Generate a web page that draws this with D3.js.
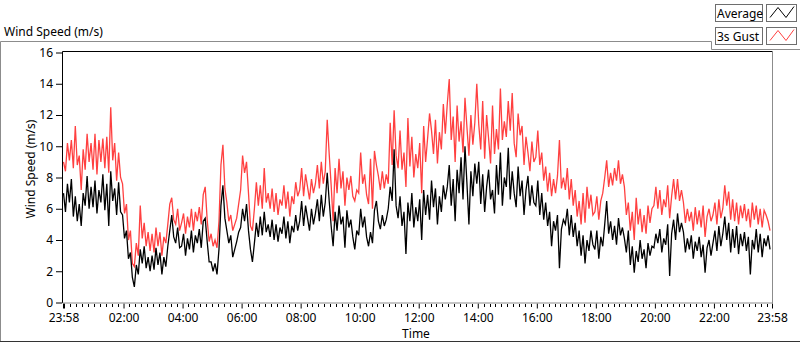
<!DOCTYPE html>
<html><head><meta charset="utf-8">
<script src="https://cdn.jsdelivr.net/npm/d3@7"></script>
<style>
html,body{margin:0;padding:0;background:#fff;}
svg{display:block;font-family:"Noto Sans","Open Sans",sans-serif;}
</style></head>
<body>
<svg id="chart" width="800" height="342"></svg>
<script>
// ---- data (4-minute samples starting 23:58) ----
const stepMinutes = 4;
const averageSpeed = [
7.0,5.8,7.6,6.4,7.9,5.5,6.8,5.2,6.3,4.9,7.0,6.2,8.1,6.0,7.4,
6.1,7.8,5.7,7.2,6.4,8.2,5.9,7.6,4.9,8.4,6.5,7.3,5.6,7.7,5.8,
5.6,4.1,4.6,2.8,3.2,1.6,1.0,2.4,1.8,3.4,2.5,3.6,2.2,2.9,2.0,
3.0,2.1,3.5,2.4,3.2,1.8,2.9,2.3,3.6,4.6,5.6,4.2,3.8,4.8,3.5,
3.6,4.4,3.0,4.1,3.4,4.6,3.2,4.3,3.8,4.7,3.5,5.2,5.4,3.9,2.6,
2.6,2.0,2.5,1.8,3.4,6.2,7.5,5.4,4.6,3.8,4.3,2.9,3.4,3.9,4.5,
4.8,6.0,5.2,6.3,4.6,3.4,2.6,3.8,5.1,4.2,5.5,4.3,5.8,4.5,5.0,
4.2,5.3,4.0,5.0,3.9,4.8,4.4,5.5,4.1,5.2,3.8,4.9,4.5,5.6,4.6,
5.2,6.5,4.9,6.2,5.4,4.6,6.0,5.0,5.7,6.6,5.2,6.9,5.5,6.4,8.3,
6.5,4.9,3.6,5.8,4.6,6.2,5.0,5.5,3.5,5.9,4.8,5.3,4.2,3.4,4.6,
4.3,6.0,4.8,5.5,4.2,3.6,4.5,3.8,5.9,6.5,5.2,4.7,5.6,4.9,5.3,
6.0,7.4,6.5,9.8,6.2,5.4,6.8,4.9,5.8,3.1,6.4,5.2,7.0,4.8,6.1,
5.2,6.6,4.0,7.2,5.6,6.9,5.3,7.8,6.1,7.3,5.0,6.8,5.8,7.5,6.6,
7.4,8.8,6.2,7.9,5.2,8.5,7.0,9.3,6.6,10.0,7.6,5.0,8.4,6.8,8.9,
7.6,9.0,6.3,8.2,5.8,7.4,8.5,6.6,7.2,5.7,8.8,6.9,9.6,6.2,8.0,
7.4,9.9,6.6,8.4,7.0,6.1,8.7,6.8,7.8,5.6,7.2,8.1,6.2,7.5,6.4,
6.2,7.8,5.6,7.0,5.3,6.4,4.9,5.8,3.6,5.2,4.6,5.6,2.2,4.7,5.3,
5.0,6.0,4.3,5.6,4.2,5.1,3.6,4.6,3.0,4.3,2.5,4.0,3.3,4.6,3.7,
3.4,4.6,2.8,4.2,3.6,5.0,6.5,4.4,5.2,4.0,4.9,3.7,5.4,4.3,4.8,
4.1,3.2,4.6,2.4,3.6,1.9,3.3,2.6,4.0,2.8,3.4,2.2,3.8,3.0,3.6,
3.5,4.4,3.8,4.7,3.2,4.1,3.7,5.0,1.7,4.4,5.3,4.0,5.7,4.5,5.1,
4.5,3.2,4.1,3.4,4.3,2.8,3.9,3.3,4.2,2.9,3.7,1.9,3.5,4.0,3.0,
3.8,4.6,3.3,4.9,3.6,4.4,5.5,4.0,5.1,3.2,4.7,3.5,4.9,3.1,4.4,
3.6,4.5,3.3,4.2,1.8,4.0,3.4,4.7,3.2,4.4,2.9,4.1,3.6,4.3,3.4
];
const gustSpeed = [
9.0,8.4,10.2,9.1,10.4,8.6,11.3,8.8,9.4,7.2,9.8,8.5,10.8,9.0,10.2,
8.5,10.8,8.2,10.4,9.0,10.5,8.6,10.6,8.3,12.5,9.1,10.2,7.8,9.6,8.0,
7.6,5.7,6.3,4.0,4.6,2.5,2.3,3.8,3.0,6.2,4.1,5.1,3.6,4.5,3.3,
4.4,3.2,4.8,3.6,4.5,3.0,4.2,3.8,5.0,6.3,6.7,5.3,5.0,6.0,4.6,
5.1,5.7,4.4,5.5,4.8,6.0,4.6,5.8,5.2,6.1,5.0,6.9,7.4,5.3,3.9,
4.4,3.6,4.0,3.5,5.2,8.8,10.1,7.3,6.4,5.2,5.6,4.6,5.0,5.4,6.3,
7.2,9.4,8.3,9.0,7.0,4.9,4.6,6.0,7.7,6.2,7.5,6.0,8.6,6.4,7.0,
6.0,7.3,5.8,7.0,5.6,6.6,6.2,7.5,6.0,7.1,5.5,6.8,6.3,7.7,6.8,
7.2,8.6,6.8,8.2,7.4,6.6,7.9,7.0,7.6,8.8,7.3,9.0,7.6,8.4,11.7,
9.5,7.5,5.2,8.6,7.0,9.2,7.3,8.4,6.2,8.0,7.2,8.1,6.8,6.5,7.2,
7.0,9.6,7.6,8.2,6.9,6.3,9.2,6.0,9.7,8.8,8.1,7.2,8.4,7.3,8.2,
7.6,11.5,8.8,12.3,9.4,8.6,11.0,8.5,9.6,7.4,11.8,8.7,10.6,8.0,9.5,
8.6,10.2,7.0,11.3,9.0,10.5,12.1,11.0,9.5,11.7,8.9,10.9,9.8,12.7,10.8,
12.7,14.3,10.4,11.9,9.0,12.6,10.3,11.6,9.6,13.1,11.2,9.4,12.0,10.1,11.5,
14.0,11.4,9.8,12.9,9.2,12.0,10.5,8.9,12.6,9.5,11.1,9.8,13.7,10.4,11.6,
10.6,12.9,11.0,13.4,10.2,9.3,12.1,10.7,11.3,8.8,10.6,9.6,8.4,10.3,9.0,
9.3,11.0,8.8,9.6,7.8,8.7,7.1,8.3,6.8,7.9,7.0,8.1,10.4,7.3,8.0,
7.2,8.6,6.6,7.9,6.2,7.2,5.5,6.5,5.0,7.0,5.1,7.4,6.0,6.9,5.6,
5.8,6.8,5.3,6.5,7.0,8.0,9.1,7.4,8.3,7.5,8.6,7.8,9.1,7.6,8.2,
7.4,5.6,6.4,4.6,5.8,4.0,6.7,5.0,6.0,4.5,5.6,4.4,6.2,5.1,6.0,
6.2,7.4,6.0,7.2,5.6,6.6,6.1,7.5,5.4,6.8,7.9,6.6,7.9,6.5,7.2,
6.4,5.1,6.0,5.2,5.8,4.6,6.1,5.0,5.9,4.8,6.2,4.2,5.5,6.0,5.2,
5.6,6.4,5.0,6.6,5.4,6.0,7.5,6.2,7.1,5.3,6.6,5.2,6.4,5.0,6.2,
5.4,6.3,5.2,6.0,4.8,6.4,5.3,6.2,5.0,6.0,4.8,5.9,5.6,5.2,4.6
];
const xTickMinutes = [0,122,242,362,482,602,722,842,962,1082,1202,1322,1440];
const xTickLabels = ["23:58","02:00","04:00","06:00","08:00","10:00","12:00","14:00","16:00","18:00","20:00","22:00","23:58"];
const yTicks = [0,2,4,6,8,10,12,14,16];
const seriesNames = ["Average","3s Gust"];
const seriesColors = ["#000000","#ff4040"];

// ---- drawing ----
const svg = d3.select("#chart");
const pL = 62.5, pR = 772.5, pT = 52.5, pB = 302.5;
const x = d3.scaleLinear().domain([0,1440]).range([63.5,772]);
const y = d3.scaleLinear().domain([0,16]).range([pB, pT]);

// outer frame
svg.append("path")
  .attr("d","M0.5,342 L0.5,41.5 L711.5,41.5 L711.5,49.5 L800,49.5")
  .attr("fill","none").attr("stroke","#8c8c8c").attr("stroke-width",1);
svg.append("line").attr("x1",0).attr("x2",800).attr("y1",341.5).attr("y2",341.5)
  .attr("stroke","#333").attr("stroke-width",1);

// title
svg.append("text").attr("x",4).attr("y",36).attr("font-size",12).attr("fill","#000")
  .text("Wind Speed (m/s)");

// plot area
svg.append("rect").attr("x",pL).attr("y",51).attr("width",pR-pL).attr("height",pB-51)
  .attr("fill","#fff");

// minor x ticks
const minor = [];
for (let m = 122 - 12*9; m < 1440; m += 12) {
  if (!xTickMinutes.includes(m) && m > 0) minor.push(m);
}
svg.append("g").selectAll("line").data(minor).join("line")
  .attr("x1",d=>Math.round(x(d))+0.5).attr("x2",d=>Math.round(x(d))+0.5)
  .attr("y1",304).attr("y2",307).attr("stroke","#000").attr("stroke-width",1);

// x axis
const xAxis = d3.axisBottom(x).tickValues(xTickMinutes)
  .tickFormat((d,i)=>xTickLabels[i]).tickSizeInner(5).tickSizeOuter(0).tickPadding(5);
const gx = svg.append("g").attr("transform",`translate(0,${pB+1})`).call(xAxis);
gx.select(".domain").remove();
gx.selectAll(".tick line").attr("stroke","#000");
gx.selectAll(".tick").filter((d,i)=>i===0).select("line").attr("stroke-width",2);
gx.selectAll("text").attr("font-size",12).attr("fill","#000")
  .attr("font-family","'Noto Sans','Open Sans',sans-serif");

// y axis
const yAxis = d3.axisLeft(y).tickValues(yTicks).tickSizeInner(6).tickSizeOuter(0).tickPadding(3);
const gy = svg.append("g").attr("transform",`translate(${pL-0.5},0)`).call(yAxis);
gy.select(".domain").remove();
gy.selectAll(".tick line").attr("stroke","#000");
gy.selectAll("text").attr("font-size",12).attr("fill","#000")
  .attr("font-family","'Noto Sans','Open Sans',sans-serif");

// axis titles
svg.append("text").attr("transform","translate(35,169) rotate(-90)")
  .attr("text-anchor","middle").attr("font-size",12).attr("fill","#000")
  .text("Wind Speed (m/s)");
svg.append("text").attr("x",416).attr("y",338).attr("text-anchor","middle")
  .attr("font-size",12).attr("fill","#000").text("Time");

// series
const line = d3.line().x((d,i)=>x(i*stepMinutes)).y(d=>y(d));
svg.append("clipPath").attr("id","pc").append("rect")
  .attr("x",pL+0.5).attr("y",pT-1).attr("width",pR-pL-0.5).attr("height",pB-pT+1);
const gSeries = svg.append("g").attr("clip-path","url(#pc)");
gSeries.append("path").datum(gustSpeed).attr("d",line)
  .attr("fill","none").attr("stroke",seriesColors[1]).attr("stroke-width",1.3);
gSeries.append("path").datum(averageSpeed).attr("d",line)
  .attr("fill","none").attr("stroke",seriesColors[0]).attr("stroke-width",1.3);

// plot frame (sunken look)
svg.append("path").attr("d",`M${pL},${pB+0.5} L${pL},${51.5} L${pR},${51.5}`)
  .attr("fill","none").attr("stroke","#000").attr("stroke-width",1);
svg.append("path").attr("d",`M${pR},${51.5} L${pR},${pB+0.5} L${pL},${pB+0.5}`)
  .attr("fill","none").attr("stroke","#8c8c8c").attr("stroke-width",1);

// legend
const lg = svg.append("g");
const legRows = seriesNames.map((n,i)=>({name:n,color:seriesColors[i],y:[4.5,27.5][i]}));
lg.selectAll("rect.lab").data(legRows).join("rect").attr("class","lab")
  .attr("x",715.5).attr("y",d=>d.y).attr("width",47).attr("height",17)
  .attr("fill","#fff").attr("stroke","#6e6e6e");
lg.selectAll("text").data(legRows).join("text")
  .attr("x",717).attr("y",d=>d.y+13).attr("font-size",12).attr("fill","#000")
  .text(d=>d.name);
lg.selectAll("rect.ico").data(legRows).join("rect").attr("class","ico")
  .attr("x",766.5).attr("y",d=>d.y).attr("width",30).attr("height",17)
  .attr("fill","#fff").attr("stroke","#6e6e6e");
lg.selectAll("path").data(legRows).join("path")
  .attr("d",d=>`M770,${d.y+13} L778,${d.y+3} L786,${d.y+13} L794,${d.y+2}`)
  .attr("fill","none").attr("stroke",d=>d.color).attr("stroke-width",1);
</script>
</body></html>
